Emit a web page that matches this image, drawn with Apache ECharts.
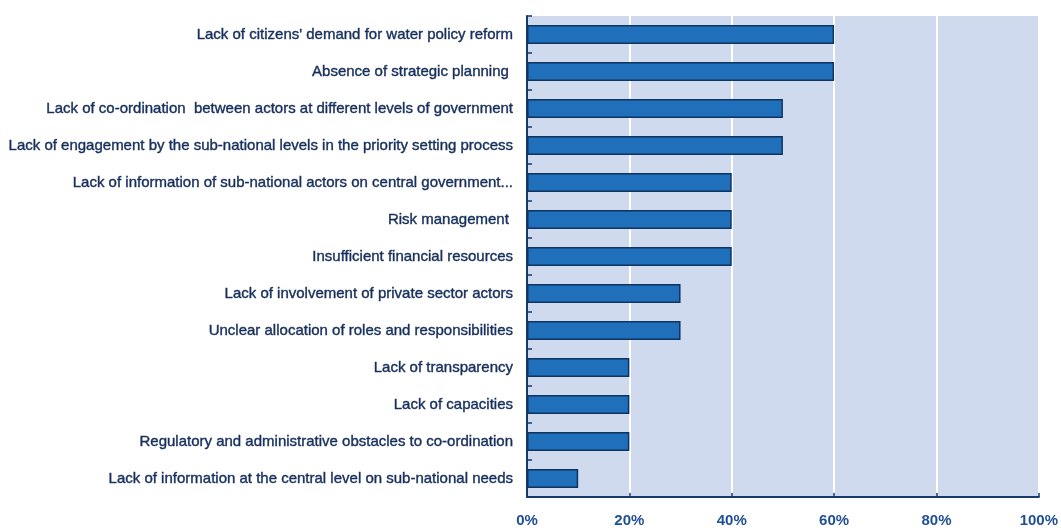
<!DOCTYPE html>
<html><head><meta charset="utf-8">
<script src="https://cdn.jsdelivr.net/npm/echarts@6/dist/echarts.min.js"></script>
<style>html,body{margin:0;padding:0;background:#fff}#c{width:1061px;height:528px}</style>
</head><body><div id="c"></div>
<script>
const categories = [
  "Lack of citizens' demand for water policy reform",
  "Absence of strategic planning ",
  "Lack of co-ordination  between actors at different levels of government",
  "Lack of engagement by the sub-national levels in the priority setting process",
  "Lack of information of sub-national actors on central government...",
  "Risk management ",
  "Insufficient financial resources",
  "Lack of involvement of private sector actors",
  "Unclear allocation of roles and responsibilities",
  "Lack of transparency",
  "Lack of capacities",
  "Regulatory and administrative obstacles to co-ordination",
  "Lack of information at the central level on sub-national needs"
];
const values = [60, 60, 50, 50, 40, 40, 40, 30, 30, 20, 20, 20, 10];
const xTicks = [0, 20, 40, 60, 80, 100];

const chart = echarts.init(document.getElementById('c'), null, {renderer: 'canvas'});
const fontFam = "'Liberation Sans', Arial, sans-serif";
chart.setOption({
  animation: false,
  grid: {left: 527, right: 22, top: 16, bottom: 31, show: true, backgroundColor: '#cfdaee', borderWidth: 0},
  xAxis: {
    type: 'value', min: 0, max: 100, interval: 20,
    axisLine: {show: true, lineStyle: {color: '#173a6b', width: 2}},
    axisTick: {show: true, inside: true, length: 4, lineStyle: {color: '#173a6b', width: 1.5}},
    splitLine: {show: true, lineStyle: {color: '#ffffff', width: 2}},
    axisLabel: {formatter: v => xTicks.includes(v) ? v + '%' : '', color: '#1f4f95', fontWeight: 'bold',
      fontSize: 15, fontFamily: fontFam, margin: 16}
  },
  yAxis: {
    type: 'category', data: categories, inverse: true,
    axisLine: {show: true, lineStyle: {color: '#173a6b', width: 2}},
    axisTick: {show: true, inside: true, length: 5, lineStyle: {color: '#173a6b', width: 1.5}},
    axisLabel: {color: '#172f5c', fontSize: 15, fontFamily: fontFam, margin: 14,
      textBorderColor: '#172f5c', textBorderWidth: 0.4}
  },
  series: [{
    type: 'bar', data: values, barWidth: '52%',
    itemStyle: {color: '#1f6fbb', borderColor: '#0f355f', borderWidth: 1.5}
  }]
});
</script></body></html>
